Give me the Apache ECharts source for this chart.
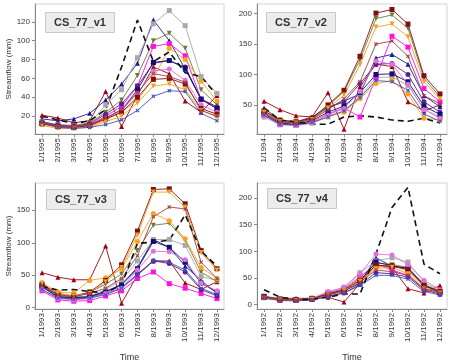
<!DOCTYPE html>
<html>
<head>
<meta charset="utf-8">
<script src="https://cdn.jsdelivr.net/npm/echarts@6/dist/echarts.min.js"></script>
<style>
  html, body { margin: 0; padding: 0; background: #fff; }
  #chart { width: 449px; height: 363px; }
</style>
</head>
<body>
<div id="chart"></div>
<script>
// month labels for each panel
const months1995 = ['1/1995','2/1995','3/1995','4/1995','5/1995','6/1995','7/1995','8/1995','9/1995','10/1995','11/1995','12/1995'];
const months1994 = ['1/1994','2/1994','3/1994','4/1994','5/1994','6/1994','7/1994','8/1994','9/1994','10/1994','11/1994','12/1994'];
const months1993 = ['1/1993','2/1993','3/1993','4/1993','5/1993','6/1993','7/1993','8/1993','9/1993','10/1993','11/1993','12/1993'];
const months1992 = ['1/1992','2/1992','3/1992','4/1992','5/1992','6/1992','7/1992','8/1992','9/1992','10/1992','11/1992','12/1992'];

const panelTitles = ['CS_77_v1', 'CS_77_v2', 'CS_77_v3', 'CS_77_v4'];
const yTicks1 = [20, 40, 60, 80, 100, 120];
const yTicks2 = [50, 100, 150, 200];
const yTicks3 = [0, 50, 100, 150];
const yTicks4 = [0, 50, 100, 150, 200];

// simulated runs, order: s1..s13
const simNames = ['s1','s2','s3','s4','s5','s6','s7','s8','s9','s10','s11','s12','s13'];

// CS_77_v1 (1995)
const v1Obs = [20, 16, 12, 15, 27, 72, 122, 78, 88, 66, 62, 42];
const v1Sim = [
  [21, 18, 13, 15, 46, 9, 42, 72, 65, 36, 24, 42],
  [17, 15, 17, 23, 37, 54, 76, 122, 100, 70, 38, 28],
  [14, 10, 9, 12, 32, 48, 82, 118, 132, 116, 62, 44],
  [14, 11, 10, 13, 24, 37, 63, 100, 108, 92, 48, 32],
  [13, 10, 9, 11, 20, 30, 52, 94, 97, 84, 38, 28],
  [11, 8, 7, 9, 16, 24, 37, 60, 92, 80, 57, 36],
  [13, 10, 9, 12, 22, 33, 52, 76, 79, 72, 38, 30],
  [12, 9, 8, 10, 18, 26, 48, 77, 79, 71, 38, 28],
  [12, 9, 8, 10, 18, 26, 44, 68, 70, 58, 32, 24],
  [12, 9, 8, 10, 17, 24, 40, 59, 60, 54, 28, 22],
  [10, 7, 7, 8, 14, 20, 34, 52, 54, 48, 26, 19],
  [13, 8, 7, 8, 11, 16, 26, 41, 47, 46, 23, 15],
  [14, 10, 9, 11, 18, 27, 45, 65, 62, 56, 26, 20]
];

// CS_77_v2 (1994)
const v2Obs = [45, 25, 22, 18, 18, 30, 32, 30, 25, 23, 28, 20];
const v2Sim = [
  [56, 42, 32, 30, 70, 10, 80, 117, 113, 55, 40, 50],
  [45, 24, 22, 30, 46, 56, 68, 127, 133, 117, 65, 47],
  [30, 17, 16, 20, 30, 40, 64, 95, 96, 82, 43, 30],
  [40, 24, 22, 28, 48, 72, 124, 192, 198, 176, 94, 63],
  [33, 18, 17, 22, 35, 45, 30, 95, 163, 145, 77, 55],
  [36, 20, 18, 24, 32, 38, 60, 85, 90, 68, 28, 25],
  [38, 22, 20, 27, 45, 55, 85, 117, 118, 100, 55, 38],
  [35, 20, 18, 24, 38, 48, 70, 100, 101, 88, 48, 34],
  [32, 18, 16, 20, 33, 44, 72, 122, 117, 84, 42, 28],
  [40, 25, 22, 28, 50, 74, 130, 201, 207, 183, 98, 68],
  [38, 22, 20, 26, 45, 66, 116, 178, 183, 162, 88, 60],
  [33, 18, 17, 21, 30, 40, 62, 90, 88, 74, 35, 23],
  [36, 22, 20, 26, 42, 60, 88, 150, 155, 130, 65, 52]
];

// CS_77_v3 (1993)
const v3Obs = [33, 27, 28, 25, 23, 35, 99, 101, 104, 143, 87, 64];
const v3Sim = [
  [54, 47, 43, 43, 95, 7, 50, 72, 72, 38, 28, 40],
  [37, 18, 16, 18, 25, 36, 62, 105, 93, 64, 42, 22],
  [32, 18, 16, 18, 28, 42, 72, 105, 105, 96, 48, 42],
  [34, 20, 16, 24, 36, 52, 88, 127, 130, 104, 55, 40],
  [26, 12, 10, 11, 18, 26, 45, 55, 37, 30, 22, 14],
  [38, 24, 23, 42, 46, 60, 102, 145, 134, 106, 62, 45],
  [32, 16, 14, 16, 22, 30, 52, 72, 68, 55, 28, 18],
  [33, 17, 15, 17, 24, 35, 60, 102, 93, 70, 38, 24],
  [28, 14, 12, 14, 22, 30, 58, 87, 86, 74, 38, 26],
  [36, 22, 18, 24, 42, 66, 118, 182, 183, 160, 88, 60],
  [38, 22, 18, 22, 40, 62, 112, 178, 178, 155, 85, 58],
  [28, 15, 13, 15, 20, 30, 50, 73, 70, 58, 30, 20],
  [34, 20, 17, 22, 30, 45, 80, 140, 155, 152, 70, 45]
];

// CS_77_v4 (1992)
const v4Obs = [28, 14, 10, 10, 14, 20, 20, 95, 182, 220, 76, 58];
const v4Sim = [
  [14, 12, 12, 12, 14, 5, 40, 75, 70, 30, 22, 36],
  [14, 8, 8, 10, 18, 26, 40, 88, 72, 68, 38, 20],
  [16, 10, 9, 12, 22, 33, 60, 82, 88, 80, 42, 26],
  [16, 11, 10, 12, 20, 28, 50, 78, 75, 70, 38, 25],
  [14, 9, 9, 11, 22, 30, 52, 76, 65, 55, 30, 22],
  [13, 9, 9, 11, 20, 28, 48, 70, 75, 62, 33, 25],
  [13, 9, 8, 10, 16, 22, 38, 60, 58, 52, 28, 20],
  [15, 10, 9, 11, 20, 28, 45, 80, 73, 68, 36, 24],
  [15, 10, 9, 12, 25, 32, 58, 95, 93, 75, 46, 28],
  [15, 10, 9, 11, 19, 26, 46, 74, 72, 66, 36, 25],
  [12, 9, 8, 10, 18, 26, 44, 68, 70, 58, 30, 22],
  [12, 8, 7, 9, 15, 22, 36, 55, 55, 48, 25, 18],
  [14, 9, 9, 10, 18, 25, 42, 65, 62, 55, 30, 22]
];

const crossPath = 'path://M2,0L5,3L8,0L10,2L7,5L10,8L8,10L5,7L2,10L0,8L3,5L0,2Z';
const simStyles = [
  { color: '#a00010', symbol: 'triangle', rot: 0 },
  { color: '#1a1a9a', symbol: 'triangle', rot: 0 },
  { color: '#a8a8a8', symbol: 'rect', rot: 0 },
  { color: '#6b7b3a', symbol: 'triangle', rot: 180 },
  { color: '#ff10e0', symbol: 'rect', rot: 0 },
  { color: '#ffa020', symbol: 'circle', rot: 0 },
  { color: '#5a2090', symbol: 'circle', rot: 0 },
  { color: '#101070', symbol: 'rect', rot: 0 },
  { color: '#e070e0', symbol: 'circle', rot: 0 },
  { color: '#801010', symbol: 'rect', rot: 0 },
  { color: '#f0a020', symbol: 'triangle', rot: 180 },
  { color: '#4050c0', symbol: crossPath, rot: 0 },
  { color: '#a04040', symbol: crossPath, rot: 0 }
];

const panels = [
  { labels: months1995, obs: v1Obs, sim: v1Sim, ticks: yTicks1, min: 1, max: 139,
    grid: { left: 35, top: 4, width: 189, height: 130 }, title: [45, 12], yName: true, xName: false },
  { labels: months1994, obs: v2Obs, sim: v2Sim, ticks: yTicks2, min: 2, max: 216,
    grid: { left: 257, top: 4, width: 190, height: 130 }, title: [266, 12], yName: false, xName: false },
  { labels: months1993, obs: v3Obs, sim: v3Sim, ticks: yTicks3, min: -2, max: 192,
    grid: { left: 35, top: 183, width: 189, height: 130 }, title: [46, 189], yName: true, xName: true },
  { labels: months1992, obs: v4Obs, sim: v4Sim, ticks: yTicks4, min: -8, max: 228,
    grid: { left: 257, top: 183, width: 190, height: 130 }, title: [267, 188], yName: false, xName: true }
];

const chart = echarts.init(document.getElementById('chart'));
const xPos = [1, 2, 3, 4, 5, 6, 7, 8, 9, 10, 11, 12];
const axisColor = '#888';
const textColor = '#333';
const font = 'Liberation Sans, Arial, sans-serif';

const grids = [], xAxes = [], yAxes = [], series = [], titles = [];

panels.forEach((p, i) => {
  grids.push(Object.assign({ show: true, borderColor: '#d4d4d4', borderWidth: 1 }, p.grid));
  const labels = p.labels;
  xAxes.push({
    type: 'value', gridIndex: i, min: 0.56, max: 12.44,
    splitLine: { show: false },
    axisLine: { show: true, onZero: false, lineStyle: { color: axisColor } },
    axisTick: { show: true, length: 3, customValues: xPos, lineStyle: { color: axisColor } },
    axisLabel: {
      customValues: xPos, rotate: 90, fontSize: 8, color: textColor, fontFamily: font, margin: 4,
      formatter: (v) => labels[Math.round(v) - 1] || ''
    },
    name: p.xName ? 'Time' : '', nameLocation: 'middle', nameGap: 44,
    nameTextStyle: { fontSize: 9, color: textColor, fontFamily: font }
  });
  yAxes.push({
    type: 'value', gridIndex: i, min: p.min, max: p.max,
    splitLine: { show: false },
    axisLine: { show: true, lineStyle: { color: axisColor } },
    axisTick: { show: true, length: 3, customValues: p.ticks, lineStyle: { color: axisColor } },
    axisLabel: { customValues: p.ticks, fontSize: 8, color: textColor, fontFamily: font, margin: 5 },
    name: p.yName ? 'Streamflow (mm)' : '', nameLocation: 'middle', nameGap: 22,
    nameTextStyle: { fontSize: 8, color: textColor, fontFamily: font }
  });
  titles.push({
    text: panelTitles[i], left: p.title[0], top: p.title[1],
    backgroundColor: '#ececec', borderColor: '#c8c8c8', borderWidth: 1,
    padding: [5, 9],
    textStyle: { fontSize: 11, fontWeight: 'bold', color: '#333', fontFamily: font }
  });

  p.sim.forEach((vals, k) => {
    const st = simStyles[k];
    series.push({
      name: simNames[k], type: 'line', xAxisIndex: i, yAxisIndex: i,
      data: vals.map((v, j) => [xPos[j], v]),
      symbol: st.symbol, symbolSize: st.symbol === crossPath ? 4 : 5, symbolRotate: st.rot,
      lineStyle: { color: st.color, width: 0.9 },
      itemStyle: { color: st.color },
      silent: true, animation: false
    });
  });
  series.push({
    name: 'obs', type: 'line', xAxisIndex: i, yAxisIndex: i,
    data: p.obs.map((v, j) => [xPos[j], v]),
    showSymbol: false, symbol: 'none', z: 3,
    lineStyle: { color: '#111', width: 1.6, type: [6, 4] },
    silent: true, animation: false
  });
});

chart.setOption({
  backgroundColor: '#fff',
  animation: false,
  title: titles,
  grid: grids,
  xAxis: xAxes,
  yAxis: yAxes,
  series: series
});
</script>
</body>
</html>
